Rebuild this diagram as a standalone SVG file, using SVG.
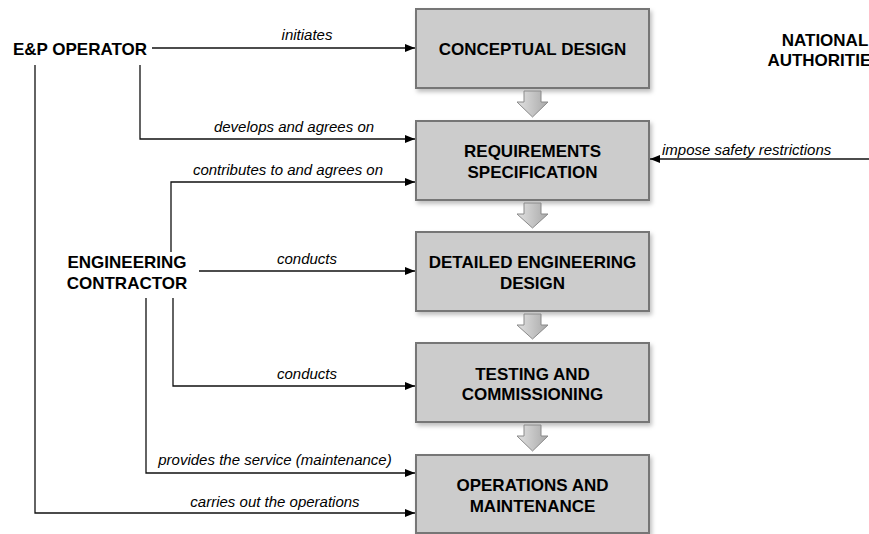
<svg xmlns="http://www.w3.org/2000/svg" width="869" height="534" viewBox="0 0 869 534">
<defs>
<style>
.box{fill:#cccccc;stroke:#767676;stroke-width:2;filter:url(#sh)}
.bt{font-family:"Liberation Sans",Arial,sans-serif;font-weight:bold;font-size:17px;fill:#000;text-anchor:middle}
.lb{font-family:"Liberation Sans",Arial,sans-serif;font-style:italic;font-size:15px;fill:#000;text-anchor:middle}
.cn{fill:none;stroke:#111;stroke-width:1.3;marker-end:url(#ah)}
.blk{fill:url(#gr);stroke:#8a8a8a;stroke-width:1}
</style>
<marker id="ah" viewBox="0 0 10 8" refX="10" refY="4" markerWidth="10" markerHeight="8" markerUnits="userSpaceOnUse" orient="auto">
<path d="M0,0 L10,4 L0,8 Z" fill="#000"/>
</marker>
<linearGradient id="gr" x1="0" y1="0" x2="1" y2="0">
<stop offset="0" stop-color="#e2e2e2"/>
<stop offset="1" stop-color="#a8a8a8"/>
</linearGradient>
<filter id="sh" x="-5%" y="-5%" width="115%" height="125%">
<feDropShadow dx="2" dy="3" stdDeviation="2" flood-color="#000" flood-opacity="0.25"/>
</filter>
</defs>
<rect width="869" height="534" fill="#fff"/>

<g id="actor-ep">
<text class="bt" x="80" y="55">E&amp;P OPERATOR</text>
</g>
<g id="actor-ec">
<text class="bt" x="127" y="268">ENGINEERING</text>
<text class="bt" x="127" y="289">CONTRACTOR</text>
</g>
<g id="actor-na">
<text class="bt" x="825" y="46">NATIONAL</text>
<text class="bt" x="825" y="66">AUTHORITIES</text>
</g>

<g id="box-conceptual">
<rect class="box" x="416" y="9" width="233" height="79"/>
<text class="bt" x="532.5" y="55">CONCEPTUAL DESIGN</text>
</g>
<g id="box-requirements">
<rect class="box" x="416" y="121" width="233" height="79"/>
<text class="bt" x="532.5" y="157">REQUIREMENTS</text>
<text class="bt" x="532.5" y="178">SPECIFICATION</text>
</g>
<g id="box-detailed">
<rect class="box" x="416" y="232" width="233" height="79"/>
<text class="bt" x="532.5" y="268">DETAILED ENGINEERING</text>
<text class="bt" x="532.5" y="289">DESIGN</text>
</g>
<g id="box-testing">
<rect class="box" x="416" y="343" width="233" height="79"/>
<text class="bt" x="532.5" y="380">TESTING AND</text>
<text class="bt" x="532.5" y="400">COMMISSIONING</text>
</g>
<g id="box-operations">
<rect class="box" x="416" y="455" width="233" height="78"/>
<text class="bt" x="532.5" y="491">OPERATIONS AND</text>
<text class="bt" x="532.5" y="512">MAINTENANCE</text>
</g>

<g id="flow-arrows">
<path class="blk" d="M524,91 H541 V102 H548 L532.5,117 L517,102 H524 Z"/>
<path class="blk" d="M524,203 H541 V214 H548 L532.5,228 L517,214 H524 Z"/>
<path class="blk" d="M524,314 H541 V325 H548 L532.5,339 L517,325 H524 Z"/>
<path class="blk" d="M524,425 H541 V436 H548 L532.5,451 L517,436 H524 Z"/>
</g>

<g id="connectors">
<path class="cn" d="M152,48 H415"/>
<text class="lb" x="307" y="40">initiates</text>
<path class="cn" d="M140,65 V139 H415"/>
<text class="lb" x="294" y="132">develops and agrees on</text>
<path class="cn" d="M171,252 V182 H415"/>
<text class="lb" x="288" y="175">contributes to and agrees on</text>
<path class="cn" d="M199,271 H415"/>
<text class="lb" x="307" y="264">conducts</text>
<path class="cn" d="M173,298 V386 H415"/>
<text class="lb" x="307" y="379">conducts</text>
<path class="cn" d="M146,298 V473 H415"/>
<text class="lb" x="275" y="465">provides the service (maintenance)</text>
<path class="cn" d="M35,65 V513 H415"/>
<text class="lb" x="275" y="507">carries out the operations</text>
<path class="cn" d="M869,159 H650"/>
<text class="lb" x="662" y="155" style="text-anchor:start">impose safety restrictions</text>
</g>
</svg>
